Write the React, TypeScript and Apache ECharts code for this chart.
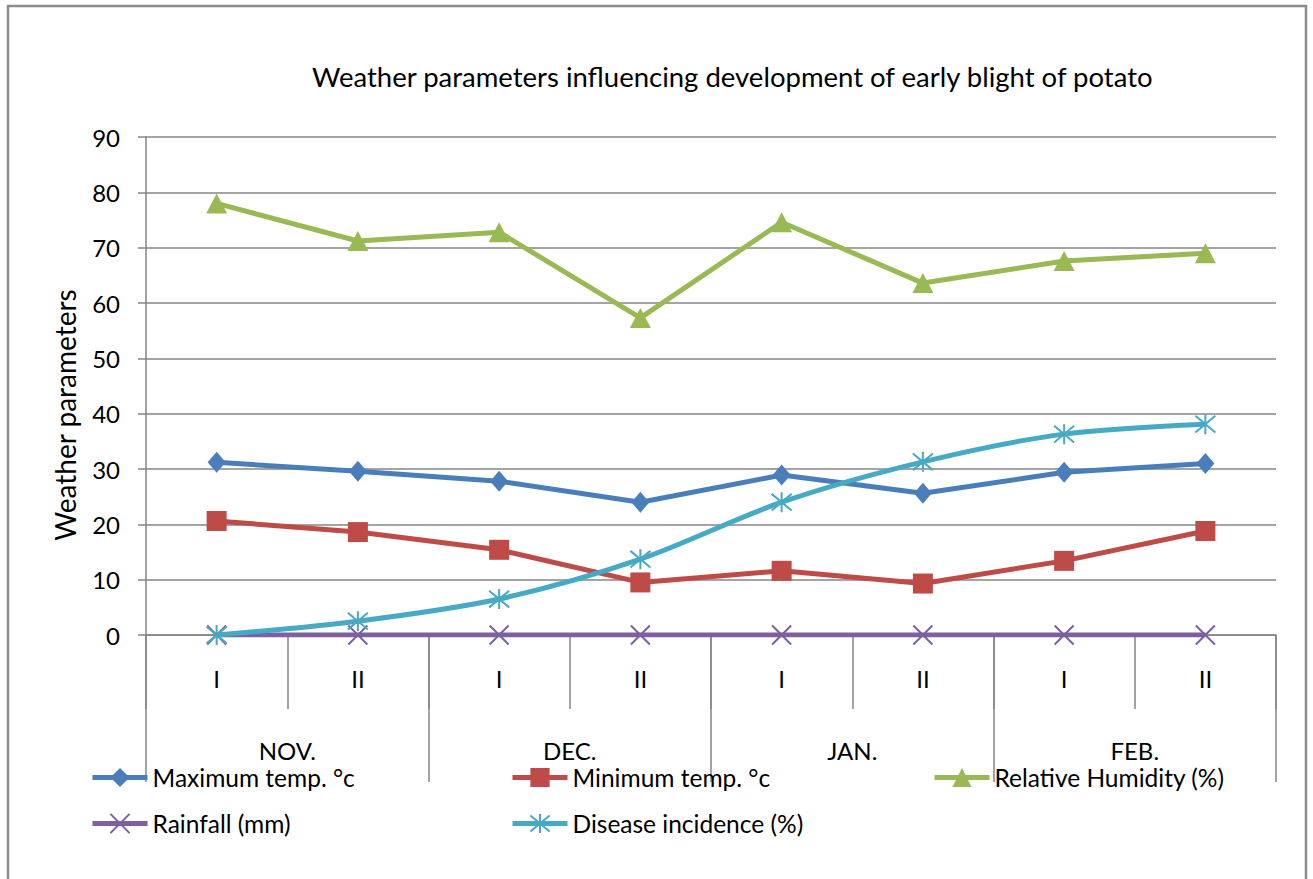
import React, { useEffect, useRef } from "react";
import * as echarts from "echarts";

const subPeriods = ["I", "II", "I", "II", "I", "II", "I", "II"];
const months = ["NOV.", "DEC.", "JAN.", "FEB."];
const maxTemp = [31.2, 29.6, 27.8, 24.0, 28.9, 25.6, 29.4, 31.0];
const minTemp = [20.6, 18.6, 15.4, 9.5, 11.6, 9.3, 13.4, 18.8];
const relHumidity = [78.0, 71.2, 72.8, 57.3, 74.6, 63.6, 67.6, 69.0];
const rainfall = [0, 0, 0, 0, 0, 0, 0, 0];
const disease = [0, 2.5, 6.5, 13.7, 24.0, 31.3, 36.3, 38.1];

const FONT = "Lato";
const GRAY = "#868686";
const crossPath = "path://M0,0L10,10M10,0L0,10";
const starPath = "path://M0,0L10,10M10,0L0,10M5,-1L5,11";

export default function App() {
  const ref = useRef<HTMLDivElement>(null);
  useEffect(() => {
    const chart = echarts.init(ref.current!, null, { renderer: "svg" });
    const legendBase = {
      itemWidth: 55,
      itemHeight: 24,
      itemGap: 5,
      lineStyle: { width: 5 },
      textStyle: { fontFamily: FONT, fontSize: 24.5, color: "#000", lineHeight: 20 },
      padding: 0,
    };
    chart.setOption({
      animation: false,
      backgroundColor: "#fff",
      title: {
        text: "Weather parameters influencing development of early blight of potato",
        left: 312,
        top: 62,
        padding: 0,
        textStyle: { fontFamily: FONT, fontSize: 27.5, fontWeight: "normal", color: "#000" },
      },
      grid: { left: 146, right: 37, top: 137, bottom: 244 },
      xAxis: [
        {
          type: "category",
          data: subPeriods,
          boundaryGap: true,
          position: "bottom",
          axisLine: { show: true, lineStyle: { color: GRAY, width: 1.5 } },
          axisTick: { show: true, length: 74, interval: 0, lineStyle: { color: GRAY, width: 1.5 } },
          axisLabel: { interval: 0, margin: 31, fontFamily: FONT, fontSize: 24, color: "#000" },
          splitLine: { show: false },
        },
        {
          type: "category",
          data: months,
          boundaryGap: true,
          position: "bottom",
          offset: 0,
          axisLine: { show: false },
          axisTick: { show: true, length: 147, interval: 0, lineStyle: { color: GRAY, width: 1.5 } },
          axisLabel: { interval: 0, margin: 107, fontFamily: FONT, fontSize: 24, color: "#000", lineHeight: 17 },
          splitLine: { show: false },
        },
      ],
      yAxis: {
        type: "value",
        min: 0,
        max: 90,
        interval: 10,
        axisLine: { show: true, lineStyle: { color: GRAY, width: 1.5 } },
        axisTick: { show: true, length: 8, lineStyle: { color: GRAY, width: 1.5 } },
        axisLabel: { margin: 26, fontFamily: FONT, fontSize: 24, color: "#000" },
        splitLine: { show: true, lineStyle: { color: GRAY, width: 1.5 } },
      },
      legend: [
        { ...legendBase, left: 90, top: 765, data: ["Maximum temp. °c"] },
        { ...legendBase, left: 510, top: 765, data: ["Minimum temp. °c"] },
        { ...legendBase, left: 932, top: 765, data: ["Relative Humidity (%)"] },
        { ...legendBase, left: 90, top: 811, data: ["Rainfall (mm)"] },
        { ...legendBase, left: 510, top: 811, data: ["Disease incidence (%)"] },
      ],
      graphic: [
        {
          type: "rect",
          shape: { x: 8, y: 6, width: 1298, height: 900 },
          style: { fill: "none", stroke: "#8c8c8c", lineWidth: 2.5 },
          silent: true,
        },
        {
          type: "text",
          x: 65,
          y: 415,
          rotation: Math.PI / 2,
          style: {
            text: "Weather parameters",
            fontFamily: FONT,
            fontSize: 28,
            fill: "#000",
            align: "center",
            verticalAlign: "middle",
          },
        },
      ],
      series: [
        {
          name: "Maximum temp. °c",
          type: "line",
          data: maxTemp,
          symbol: "diamond",
          symbolSize: [18, 21],
          lineStyle: { color: "#4A7EBB", width: 5 },
          itemStyle: { color: "#4A7EBB" },
        },
        {
          name: "Minimum temp. °c",
          type: "line",
          data: minTemp,
          symbol: "rect",
          symbolSize: 20,
          lineStyle: { color: "#BE4B48", width: 5 },
          itemStyle: { color: "#BE4B48" },
        },
        {
          name: "Relative Humidity (%)",
          type: "line",
          data: relHumidity,
          symbol: "triangle",
          symbolSize: [21, 20],
          lineStyle: { color: "#98B954", width: 5 },
          itemStyle: { color: "#98B954" },
        },
        {
          name: "Rainfall (mm)",
          type: "line",
          data: rainfall,
          symbol: crossPath,
          symbolSize: 19,
          lineStyle: { color: "#7D60A0", width: 5 },
          itemStyle: { color: "#7D60A0", borderColor: "#7D60A0", borderWidth: 2 },
        },
        {
          name: "Disease incidence (%)",
          type: "line",
          data: disease,
          smooth: 0.3,
          symbol: starPath,
          symbolSize: 20,
          lineStyle: { color: "#46AAC5", width: 5 },
          itemStyle: { color: "#46AAC5", borderColor: "#46AAC5", borderWidth: 2 },
        },
      ],
    });
    return () => chart.dispose();
  }, []);
  return (
    <div
      ref={ref}
      style={{ position: "fixed", left: 0, top: 0, width: 1313, height: 879 }}
    />
  );
}
